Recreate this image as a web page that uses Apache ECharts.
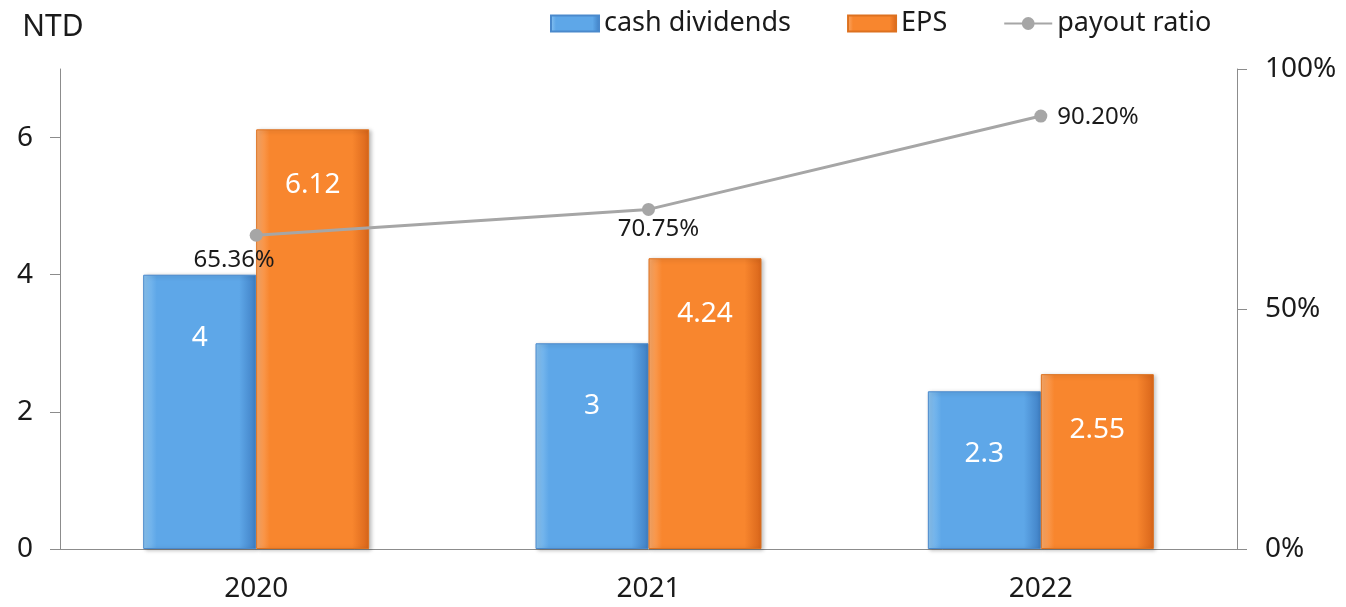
<!DOCTYPE html>
<html>
<head>
<meta charset="utf-8">
<script src="https://cdn.jsdelivr.net/npm/echarts@6/dist/echarts.min.js"></script>
<style>
html, body { margin: 0; padding: 0; background: #fff; }
#main { width: 1346px; height: 607px; }
</style>
</head>
<body>
<div id="main"></div>
<script>
// data
var years = ['2020', '2021', '2022'];
var cashDividends = [4, 3, 2.3];
var eps = [6.12, 4.24, 2.55];
var payoutRatio = [65.36, 70.75, 90.20];
var leftTicks = [0, 2, 4, 6];
var rightTicks = [0, 50, 100];

var fontFam = '"Noto Sans", "Open Sans", sans-serif';

// label spot for each ratio point
var ratioLabelPos = ['bottom', 'bottom', 'right'];
var ratioLabelOff = [[-22, -4], [10, -9], [0, 1]];

var ratioData = payoutRatio.map(function (v, i) {
    return {
        value: v,
        label: {
            position: ratioLabelPos[i],
            offset: ratioLabelOff[i]
        }
    };
});

function barGrad(light, mid, dark) {
    return new echarts.graphic.LinearGradient(0, 0, 1, 0, [
        { offset: 0, color: light },
        { offset: 0.12, color: mid },
        { offset: 0.85, color: mid },
        { offset: 1, color: dark }
    ]);
}

var myChart = echarts.init(document.getElementById('main'));

var option = {
    textStyle: { fontFamily: fontFam },
    animation: false,
    grid: {
        left: 60,
        right: 109,
        top: 69,
        bottom: 58
    },
    legend: {
        top: 5,
        left: 545,
        itemWidth: 48,
        itemHeight: 16,
        itemGap: 56,
        textStyle: {
            fontSize: 27,
            color: '#1a1a1a',
            fontFamily: fontFam
        },
        data: [
            { name: 'cash dividends', icon: 'rect' },
            { name: 'EPS', icon: 'rect' },
            { name: 'payout ratio' }
        ]
    },
    xAxis: {
        type: 'category',
        data: years,
        axisLine: { lineStyle: { color: '#8c8c8c', width: 1 } },
        axisTick: { show: false },
        axisLabel: {
            fontSize: 28,
            color: '#1a1a1a',
            margin: 26
        }
    },
    yAxis: [{
        type: 'value',
        name: 'NTD',
        nameLocation: 'end',
        nameGap: 27,
        nameTextStyle: {
            fontSize: 30,
            color: '#1a1a1a',
            align: 'center',
            padding: [0, 14, 0, 0]
        },
        min: 0,
        max: 7,
        interval: 1,
        axisLine: { show: true, lineStyle: { color: '#8c8c8c' } },
        axisTick: {
            show: true,
            length: 10,
            lineStyle: { color: '#8c8c8c' },
            customValues: leftTicks
        },
        axisLabel: {
            fontSize: 28,
            color: '#1a1a1a',
            margin: 27,
            customValues: leftTicks
        },
        splitLine: { show: false }
    }, {
        type: 'value',
        min: 0,
        max: 100,
        interval: 50,
        position: 'right',
        axisLine: { show: true, lineStyle: { color: '#8c8c8c' } },
        axisTick: {
            show: true,
            length: 10,
            lineStyle: { color: '#8c8c8c' },
            customValues: rightTicks
        },
        axisLabel: {
            fontSize: 28,
            color: '#1a1a1a',
            margin: 28,
            formatter: '{value}%',
            customValues: rightTicks
        },
        splitLine: { show: false }
    }],
    series: [{
        name: 'cash dividends',
        type: 'bar',
        barGap: '0%',
        barCategoryGap: '42.4%',
        data: cashDividends,
        itemStyle: {
            color: barGrad('#8cc5f2', '#5ea7e8', '#3f7fc4'),
            borderColor: '#4a89cc',
            borderWidth: 1,
            shadowColor: 'rgba(0,0,0,0.25)',
            shadowBlur: 4,
            shadowOffsetX: 2,
            shadowOffsetY: 1
        },
        label: {
            show: true,
            position: 'insideTop',
            distance: 49,
            fontSize: 28,
            color: '#ffffff'
        }
    }, {
        name: 'EPS',
        type: 'bar',
        data: eps,
        itemStyle: {
            color: barGrad('#fbab6c', '#f8862e', '#d8651a'),
            borderColor: '#dd711f',
            borderWidth: 1,
            shadowColor: 'rgba(0,0,0,0.25)',
            shadowBlur: 4,
            shadowOffsetX: 2,
            shadowOffsetY: 1
        },
        label: {
            show: true,
            position: 'insideTop',
            distance: 42,
            fontSize: 28,
            color: '#ffffff'
        }
    }, {
        name: 'payout ratio',
        type: 'line',
        yAxisIndex: 1,
        data: ratioData,
        symbol: 'circle',
        symbolSize: 13,
        lineStyle: { color: '#a6a6a6', width: 3 },
        itemStyle: { color: '#a6a6a6' },
        label: {
            show: true,
            fontSize: 24,
            color: '#1a1a1a',
            distance: 10,
            formatter: function (p) { return p.value.toFixed(2) + '%'; }
        }
    }]
};

myChart.setOption(option);
</script>
</body>
</html>
